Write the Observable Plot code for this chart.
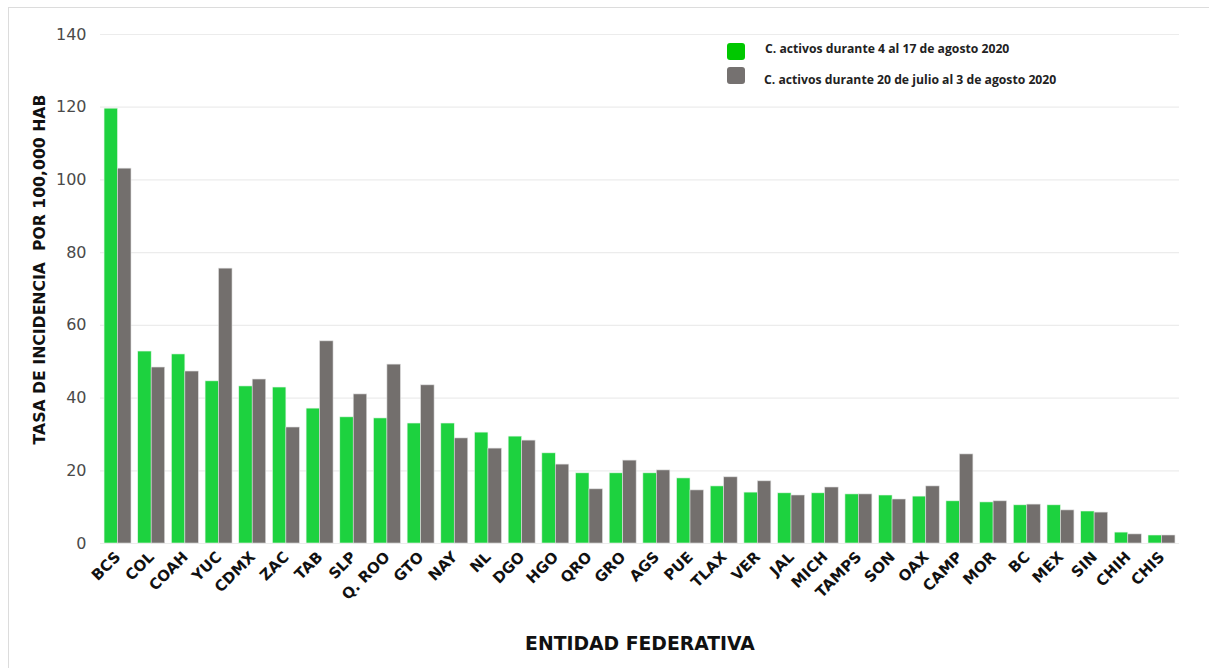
<!DOCTYPE html>
<html>
<head>
<meta charset="utf-8">
<script src="https://cdn.jsdelivr.net/npm/d3@7"></script>
<script src="https://cdn.jsdelivr.net/npm/@observablehq/plot@0.6"></script>
<style>
  html, body { margin: 0; padding: 0; background: #fff; }
  #wrap { position: relative; width: 1209px; height: 668px; overflow: hidden; font-family: "Open Sans", sans-serif; }
  #frame { position: absolute; left: 8px; top: 7px; width: 1400px; height: 800px; border: 1px solid #dcdcdc; pointer-events: none; }
  #chart { position: absolute; left: 0; top: 0; }
  .leg { position: absolute; font-weight: 700; font-size: 12.2px; color: #222; white-space: nowrap; }
  .sw { width: 18px; height: 17px; border-radius: 3px; position: absolute; }
</style>
</head>
<body>
<div id="wrap">
  <div id="frame"></div>
  <div id="chart"></div>
  <div class="sw" style="left:727px; top:43px; background:#00c800;"></div>
  <div class="leg" style="left:765px; top:40px;">C. activos durante 4 al 17 de agosto 2020</div>
  <div class="sw" style="left:727px; top:67px; background:#757170;"></div>
  <div class="leg" style="left:764px; top:71px;">C. activos durante 20 de julio al 3 de agosto 2020</div>
</div>
<script>
const states = ["BCS","COL","COAH","YUC","CDMX","ZAC","TAB","SLP","Q. ROO","GTO","NAY","NL","DGO","HGO","QRO","GRO","AGS","PUE","TLAX","VER","JAL","MICH","TAMPS","SON","OAX","CAMP","MOR","BC","MEX","SIN","CHIH","CHIS"];
const agosto = [119.6,52.8,52.0,44.6,43.2,42.9,37.1,34.7,34.4,33.0,33.0,30.5,29.4,24.8,19.3,19.3,19.3,17.9,15.7,14.0,13.8,13.8,13.5,13.2,12.9,11.6,11.3,10.5,10.5,8.8,3.0,2.2];
const julio = [103.1,48.4,47.3,75.6,45.1,31.9,55.6,41.0,49.2,43.5,28.9,26.1,28.3,21.7,14.9,22.8,20.1,14.6,18.2,17.1,13.2,15.4,13.5,12.1,15.7,24.5,11.6,10.7,9.1,8.5,2.5,2.2];
const yTicks = [0,20,40,60,80,100,120,140];

const dataA = states.map((s,i) => ({state: s, value: agosto[i]}));
const dataJ = states.map((s,i) => ({state: s, value: julio[i]}));

const chart = Plot.plot({
  width: 1209,
  height: 668,
  marginLeft: 100,
  marginRight: 30,
  marginTop: 34,
  marginBottom: 125,
  style: {fontFamily: "'DejaVu Sans', sans-serif", background: "transparent"},
  x: {domain: states, paddingInner: 0.2, paddingOuter: 0.12, round: false, label: null},
  y: {domain: [0, 140], label: null},
  marks: [
    Plot.gridY(yTicks, {stroke: "#ececec", strokeOpacity: 1, strokeWidth: 1.2}),
    Plot.axisY(yTicks, {tickSize: 0, tickPadding: 14, fontSize: 16, fill: "#4a4a4a",
      label: "TASA DE INCIDENCIA  POR 100,000 HAB", labelAnchor: "center", labelArrow: "none", labelOffset: 67}),
    Plot.axisX({tickSize: 0, tickPadding: 11, tickRotate: -45, fontSize: 15, fontWeight: 700, fill: "#111",
      label: "ENTIDAD FEDERATIVA", labelAnchor: "center", labelArrow: "none", labelOffset: 106}),
    Plot.barY(dataA, {x: "state", y: "value", fill: "#1dd23f", stroke: "#e6f5e8", strokeWidth: 0.6, insetRight: 13.47}),
    Plot.barY(dataJ, {x: "state", y: "value", fill: "#736f6d", stroke: "#dcdcdc", strokeWidth: 0.6, insetLeft: 13.47})
  ]
});
const svg = d3.select(chart);
svg.selectAll("g[aria-label='y-axis label'] text, g[aria-label='x-axis label'] text")
  .attr("font-weight", 700).attr("fill", "#111");
const yl = svg.select("g[aria-label='y-axis label'] text").attr("font-size", 15.7);
const tr = yl.attr("transform");
if (tr) {
  const m = tr.match(/translate\(([-\d.]+),\s*([-\d.]+)\)(.*)/);
  if (m) yl.attr("transform", `translate(${m[1]},269)${m[3]}`);
}
svg.select("g[aria-label='x-axis label'] text").attr("font-size", 18.8);
document.getElementById("chart").appendChild(chart);
</script>
</body>
</html>
